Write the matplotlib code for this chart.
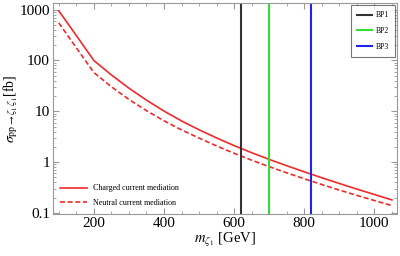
import numpy as np
import matplotlib.pyplot as plt
from matplotlib.ticker import MultipleLocator, LogLocator, NullFormatter, FixedLocator, FixedFormatter

plt.rcParams['font.family'] = ['Liberation Serif', 'DejaVu Serif']
plt.rcParams['mathtext.fontset'] = 'stix'

# masses (GeV) and cross sections (fb)
mass = [100, 150, 200, 250, 300, 350, 400, 450, 500, 550, 600, 650, 700,
        750, 800, 850, 900, 950, 1000, 1050]
sigma_charged = [950, 310, 100, 52, 28.5, 16.6, 10.1, 6.46, 4.32, 2.99, 2.11,
                 1.53, 1.13, 0.848, 0.643, 0.492, 0.379, 0.294, 0.230, 0.180]
sigma_neutral = [550, 178, 58, 30.4, 17.1, 10.3, 6.5, 4.3, 2.97, 2.08, 1.49,
                 1.09, 0.813, 0.614, 0.469, 0.361, 0.281, 0.221, 0.175, 0.139]

bp_names = ['BP1', 'BP2', 'BP3']
bp_mass = [620, 700, 820]
bp_colors = ['#333333', '#33dd33', '#2222ee']

fig = plt.figure(figsize=(4.0, 2.56), dpi=100)
ax = fig.add_axes([0.132, 0.164, 0.861, 0.824])

red = '#f02a2a'
l1, = ax.plot(mass, sigma_charged, color=red, lw=1.2)
l2, = ax.plot(mass, sigma_neutral, color=red, lw=1.2, ls=(0, (3, 1.6)))

bp_lines = []
for name, m, c in zip(bp_names, bp_mass, bp_colors):
    bp_lines.append(ax.axvline(m, color=c, lw=1.5))

ax.set_yscale('log')
ax.set_xlim(83, 1065)
ax.set_ylim(0.095, 1350)

ax.xaxis.set_minor_locator(MultipleLocator(50))
ax.set_xticks([200, 400, 600, 800, 1000])
ax.set_xticklabels(['200', '400', '600', '800', '1000'])
ax.yaxis.set_major_locator(FixedLocator([0.1, 1, 10, 100, 1000]))
ax.yaxis.set_major_formatter(FixedFormatter(['0.1', '1', '10', '100', '1000']))
ax.yaxis.set_minor_locator(LogLocator(base=10, subs=np.arange(2, 10)))
ax.yaxis.set_minor_formatter(NullFormatter())

ax.tick_params(which='both', direction='in', top=True, right=True,
               color='#999999', labelsize=11, pad=2)
ax.tick_params(which='major', length=4)
ax.tick_params(which='minor', length=2)
for s in ax.spines.values():
    s.set_color('#999999')

ax.set_xlabel(r'$m_{\zeta_1}$ [GeV]', fontsize=10.5, labelpad=1)
ax.set_ylabel(r'$\sigma_{\mathrm{pp}\rightarrow\zeta_1\,\zeta_1}$[fb]', fontsize=10, labelpad=0)

leg1 = ax.legend([l1, l2], ['Charged current mediation', 'Neutral current mediation'],
                 loc='lower left', frameon=False, fontsize=5.8, handlelength=3.4,
                 borderaxespad=0.5, labelspacing=0.8, handletextpad=0.7)
ax.add_artist(leg1)
leg2 = ax.legend(bp_lines, bp_names, loc='upper right', fontsize=5.5,
                 handlelength=1.9, fancybox=False, edgecolor='#555555',
                 borderaxespad=0.3, labelspacing=1.0, borderpad=0.8,
                 handletextpad=0.5)
leg2.get_frame().set_linewidth(0.8)

fig.savefig('out.png', dpi=100)
